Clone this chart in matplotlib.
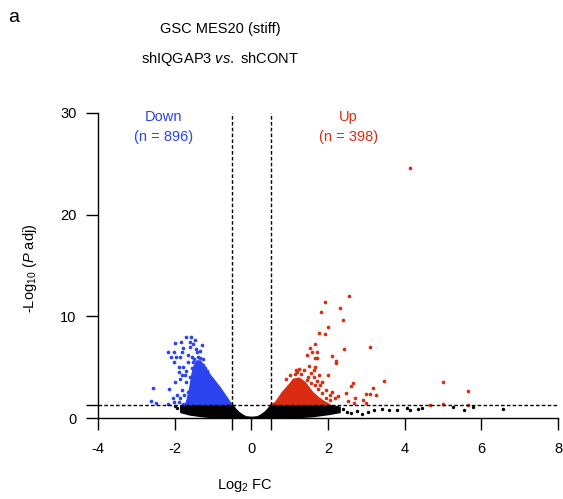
import matplotlib.pyplot as plt

plt.rcParams['font.family'] = ['Liberation Sans', 'DejaVu Sans']
plt.rcParams['mathtext.fontset'] = 'custom'
plt.rcParams['mathtext.rm'] = 'Liberation Sans'
plt.rcParams['mathtext.it'] = 'Liberation Sans:italic'

fc_cut = 0.5
p_cut = 1.3  # -log10(0.05)
n_down = 896
n_up = 398

# dense cloud of non significant genes (envelope)
ns_x = [-1.85, -1.6, -1.3, -1.0, -0.7, -0.5, -0.42, -0.34, -0.25, -0.15, 0.0,
        0.15, 0.25, 0.34, 0.42, 0.5, 0.8, 1.2, 1.6, 2.0, 2.3]
ns_top = [1.2, 1.3, 1.3, 1.3, 1.3, 1.3, 0.9, 0.6, 0.35, 0.15, 0.1,
          0.15, 0.35, 0.6, 0.9, 1.3, 1.3, 1.3, 1.3, 1.3, 1.1]
ns_bottom = [0.6, 0.35, 0.2, 0.1, 0.03, 0, 0, 0, 0, 0, 0,
             0, 0, 0, 0, 0, 0.02, 0.1, 0.2, 0.4, 0.6]

# dense cores of down / up genes
down_core_x = [-1.72, -1.67, -1.60, -1.55, -1.50, -1.42, -1.33, -1.25, -1.07, -0.81, -0.55, -0.48]
down_core_y = [1.3, 1.8, 3.0, 4.2, 5.0, 5.6, 5.6, 5.2, 4.2, 2.95, 1.5, 1.3]
up_core_x = [0.5, 0.63, 0.81, 1.0, 1.1, 1.25, 1.4, 1.5, 1.6, 1.75, 1.9, 2.05]
up_core_y = [1.3, 1.5, 2.5, 3.3, 3.8, 3.9, 3.5, 3.0, 2.5, 2.0, 1.6, 1.3]

# single points
down_x = [-1.70, -1.57, -1.98, -1.83, -1.59, -1.51, -2.17, -2.01, -1.80, -1.77,
          -2.09, -1.96, -1.85, -1.38, -2.03, -1.90, -1.77, -2.56, -2.14, -1.98,
          -1.80, -2.61, -2.48, -2.17, -2.03, -1.90, -1.77, -1.64, -1.51, -1.41,
          -1.46, -1.30, -1.33, -1.25, -1.72, -1.59, -1.54, -1.64,
          -1.90, -1.85, -1.70, -1.75, -1.85, -1.65, -1.55, -1.45, -1.35, -1.25,
          -1.20, -1.15, -1.70, -1.95, -2.05, -1.60, -1.50, -1.40, -1.80, -1.66]
down_y = [7.96, 7.96, 7.4, 7.5, 7.5, 7.3, 6.5, 6.5, 6.5, 6.9,
          6.0, 6.0, 6.0, 6.0, 5.5, 5.0, 5.0, 3.0, 2.9, 3.5,
          2.75, 1.7, 1.5, 1.4, 1.6, 1.6, 1.4, 1.6, 5.5, 6.5,
          7.7, 7.2, 5.9, 5.2, 4.2, 4.0, 4.9, 5.5,
          4.5, 3.8, 3.5, 2.3, 2.0, 6.2, 6.0, 6.8, 6.6, 5.8,
          4.9, 4.6, 4.6, 2.3, 2.0, 7.0, 5.8, 4.6, 4.2, 2.6]

up_x = [4.15, 2.56, 1.93, 1.83, 2.32, 2.40, 2.01, 1.77, 1.93, 3.10,
        2.43, 1.67, 1.54, 1.59, 1.72, 1.46, 1.67, 1.72, 2.11, 2.22,
        2.22, 1.51, 1.67, 1.64, 1.25, 1.38, 1.17, 1.77, 2.01, 1.49,
        1.64, 3.47, 5.01, 2.66, 2.61, 3.18, 2.48, 3.00, 3.10, 3.24,
        2.71, 2.19, 2.92, 2.53, 2.69, 3.00, 4.67, 5.01, 5.66, 5.64,
        1.80, 1.95, 2.05, 1.70,
        0.90, 1.00, 1.15, 1.30, 1.45, 1.55, 1.65, 1.75, 1.85, 1.95,
        2.05, 1.60, 1.70, 1.40, 1.30, 1.20, 1.55, 1.85, 2.10, 2.25]
up_y = [24.6, 12.0, 11.4, 10.4, 10.8, 9.6, 9.0, 8.4, 8.3, 7.0,
        6.8, 7.3, 6.9, 6.5, 6.5, 6.2, 5.9, 5.9, 6.1, 5.6,
        5.4, 5.1, 5.0, 4.7, 4.8, 4.7, 4.7, 4.2, 4.2, 4.0,
        4.0, 3.6, 3.5, 3.4, 3.1, 3.0, 2.5, 2.4, 2.4, 2.3,
        2.0, 2.0, 1.8, 1.7, 1.5, 1.5, 1.3, 1.4, 2.65, 1.3,
        3.2, 2.8, 2.3, 3.6,
        3.8, 4.2, 4.3, 4.3, 3.7, 3.4, 3.2, 2.9, 2.5, 2.0,
        1.8, 1.9, 1.6, 2.2, 2.0, 4.5, 4.4, 3.5, 2.6, 2.2]

ns_pts_x = [2.6, 2.75, 2.9, 3.05, 3.2, 3.42, 3.6, 3.8, 4.07, 4.15,
            4.36, 4.46, 5.27, 5.56, 5.79, 6.57, 2.4, 2.5, -1.95, -2.0]
ns_pts_y = [0.5, 0.7, 0.4, 0.6, 0.8, 0.9, 0.8, 0.8, 1.0, 0.8,
            0.9, 1.0, 1.1, 0.8, 1.1, 0.9, 0.9, 0.6, 1.0, 1.2]

x_ticks = [-4, -2, -fc_cut, 0, fc_cut, 2, 4, 6, 8]
x_ticklabels = ['-4', '-2', '', '0', '', '2', '4', '6', '8']
y_ticks = [0, p_cut, 10, 20, 30]
y_ticklabels = ['0', '', '10', '20', '30']

blue = '#2B44F0'
red = '#DA2C10'

fig = plt.figure(figsize=(5.63, 4.99), dpi=100)
ax = fig.add_axes([98/563, 1 - 418/499, 460/563, 305/499])

ax.fill_between(ns_x, ns_bottom, ns_top, color='black', lw=1.2, zorder=2)
ax.scatter(ns_pts_x, ns_pts_y, s=6, color='black', lw=0, zorder=2)
ax.fill(down_core_x, down_core_y, color=blue, lw=1.2, zorder=3)
ax.scatter(down_x, down_y, s=7, color=blue, lw=0, zorder=3)
ax.fill(up_core_x, up_core_y, color=red, lw=1.2, zorder=3)
ax.scatter(up_x, up_y, s=7, color=red, lw=0, zorder=3)

dash = (0, (2.6, 1.6))
ax.axhline(p_cut, color='black', lw=1.0, ls=dash, zorder=4)
ax.vlines([-fc_cut, fc_cut], p_cut, 30, color='black', lw=1.0, ls=dash, zorder=4)

ax.set_xlim(-4, 8)
ax.set_ylim(0, 30)
ax.set_xticks(x_ticks)
ax.set_xticklabels(x_ticklabels)
ax.set_yticks(y_ticks)
ax.set_yticklabels(y_ticklabels)
ax.tick_params(length=8.5, width=1.0, labelsize=10.5)
ax.tick_params(axis='x', pad=9)
ax.tick_params(axis='y', pad=7)
for s in ['top', 'right']:
    ax.spines[s].set_visible(False)
for s in ['left', 'bottom']:
    ax.spines[s].set_linewidth(1.0)

ax.text(-2.3, 29.6, 'Down', color=blue, fontsize=10.5, ha='center', va='center')
ax.text(-2.3, 27.6, '(n = %d)' % n_down, color=blue, fontsize=10.5, ha='center', va='center')
ax.text(2.53, 29.6, 'Up', color=red, fontsize=10.5, ha='center', va='center')
ax.text(2.53, 27.6, '(n = %d)' % n_up, color=red, fontsize=10.5, ha='center', va='center')

fig.text(8/563, 1 - 17/499, 'a', fontsize=14, ha='left', va='center')
fig.text(220/563, 1 - 29/499, 'GSC MES20 (stiff)', fontsize=10.5, ha='center', va='center')
fig.text(220/563, 1 - 59/499, r'shIQGAP3 $\it{vs.}$ shCONT', fontsize=10.5, ha='center', va='center')
fig.text(245/563, 1 - 486/499, r'Log$_2$ FC', fontsize=10.5, ha='center', va='center')
fig.text(30/563, 1 - 268/499, r'-Log$_{10}$ ($\it{P}$ adj)', fontsize=10.5, ha='center', va='center',
         rotation=90)

fig.savefig('out.png', dpi=100)
